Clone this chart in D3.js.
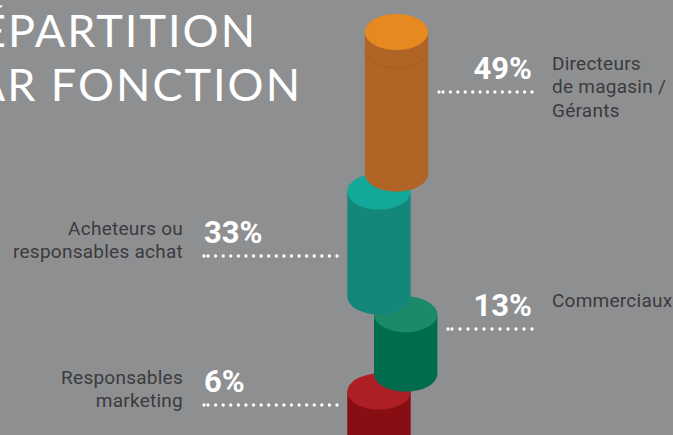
<!DOCTYPE html>
<html>
<head>
<meta charset="utf-8">
<script src="https://cdn.jsdelivr.net/npm/d3@7"></script>
<style>
  html, body { margin: 0; padding: 0; background: #8e8f91; overflow: hidden; }
  svg { display: block; }
</style>
</head>
<body>
<svg id="chart" width="673" height="435"></svg>
<script>
// ---- Data ----
const categories = ["Directeurs de magasin / Gérants", "Acheteurs ou responsables achat", "Commerciaux", "Responsables marketing"];
const values = [49, 33, 13, 6];
const labelLines = [["Directeurs", "de magasin /", "Gérants"], ["Acheteurs ou", "responsables achat"], ["Commerciaux"], ["Responsables", "marketing"]];
const labelSides = ["right", "left", "right", "left"];
const titleLines = ["RÉPARTITION", "PAR FONCTION"];
const topColors = ["#e58920", "#12a99a", "#1a8a68", "#ad1f24"];
const sideColors = ["#b06426", "#13877a", "#006c4e", "#870e12"];

// ---- Layout ----
const W = 673, H = 435;
const svg = d3.select("#chart");
svg.append("rect").attr("width", W).attr("height", H).attr("fill", "#8e8f91");

const cxs = [396.5, 379, 405.7, 379];
const rx = 31.7, ry = 18;
const firstTop = 32, gap = 17.8;
const hScale = d3.scaleLinear().domain([0, 49]).range([29.6, 141.7]);
const lineYs = [92, 256, 329, 405];
const lineX = { right: [439, 532], left: [204, 337] };
const lineXRight13 = 448;

// compute stacked positions
const cyl = [];
let y = firstTop;
values.forEach((v, i) => {
  const h = hScale(v);
  cyl.push({ i, v, cx: cxs[i], top: y, bottom: y + h });
  y = y + h + gap;
});

// draw bottom-most first so upper cylinders overlap
const g = svg.append("g");
cyl.slice().reverse().forEach(c => {
  const L = c.cx - rx, R = c.cx + rx;
  g.append("path")
    .attr("d", `M${L},${c.top} L${L},${c.bottom} A${rx},${ry} 0 0 0 ${R},${c.bottom} L${R},${c.top} Z`)
    .attr("fill", sideColors[c.i]);
  if (c.i === 0) {
    g.append("path")
      .attr("d", `M${L},${c.top + 18} A${rx},${ry} 0 0 0 ${R},${c.top + 18}`)
      .attr("fill", "none").attr("stroke", "rgba(0,0,0,0.06)").attr("stroke-width", 1);
  }
  g.append("ellipse")
    .attr("cx", c.cx).attr("cy", c.top).attr("rx", rx).attr("ry", ry)
    .attr("fill", topColors[c.i]);
});

// ---- Title ----
const title = svg.append("g");
title.selectAll("text").data(titleLines).join("text")
  .attr("x", (d, i) => i === 0 ? 257 : 302)
  .attr("y", (d, i) => i === 0 ? 47 : 101)
  .attr("text-anchor", "end")
  .attr("font-family", "Lato, 'Open Sans', sans-serif")
  .attr("font-weight", 400)
  .attr("font-size", 45)
  .attr("letter-spacing", 2)
  .attr("fill", "#ffffff")
  .text(d => d);

// ---- Annotations ----
const ann = svg.append("g");
values.forEach((v, i) => {
  const side = labelSides[i];
  const ly = lineYs[i];
  let x0 = lineX[side][0], x1 = lineX[side][1];
  if (i === 2) x0 = lineXRight13;
  // dotted leader
  const dots = [x0, x0 + 4];
  const n = Math.round((x1 - (x0 + 4)) / 7.7);
  const step = (x1 - (x0 + 4)) / n;
  for (let k = 1; k <= n; k++) dots.push(x0 + 4 + k * step);
  ann.append("g").selectAll("circle").data(dots).join("circle")
    .attr("cx", d => d).attr("cy", ly).attr("r", 1.65).attr("fill", "#ffffff");

  // percent
  ann.append("text")
    .attr("x", side === "right" ? x1 : x0)
    .attr("y", ly - 13.5)
    .attr("text-anchor", side === "right" ? "end" : "start")
    .attr("font-family", "Roboto, sans-serif")
    .attr("font-weight", 700)
    .attr("font-size", 31)
    .attr("fill", "#ffffff")
    .text(v + "%");

  // category label
  const t = ann.append("text")
    .attr("text-anchor", side === "right" ? "start" : "end")
    .attr("font-family", "Roboto, sans-serif")
    .attr("font-size", 19)
    .attr("letter-spacing", 0.25)
    .attr("fill", "#3b3b3d");
  labelLines[i].forEach((line, k) => {
    t.append("tspan")
      .attr("x", side === "right" ? 552 : 183)
      .attr("y", ly - (side === "right" ? 22 : 21) + k * 23.4)
      .text(line);
  });
});
</script>
</body>
</html>
